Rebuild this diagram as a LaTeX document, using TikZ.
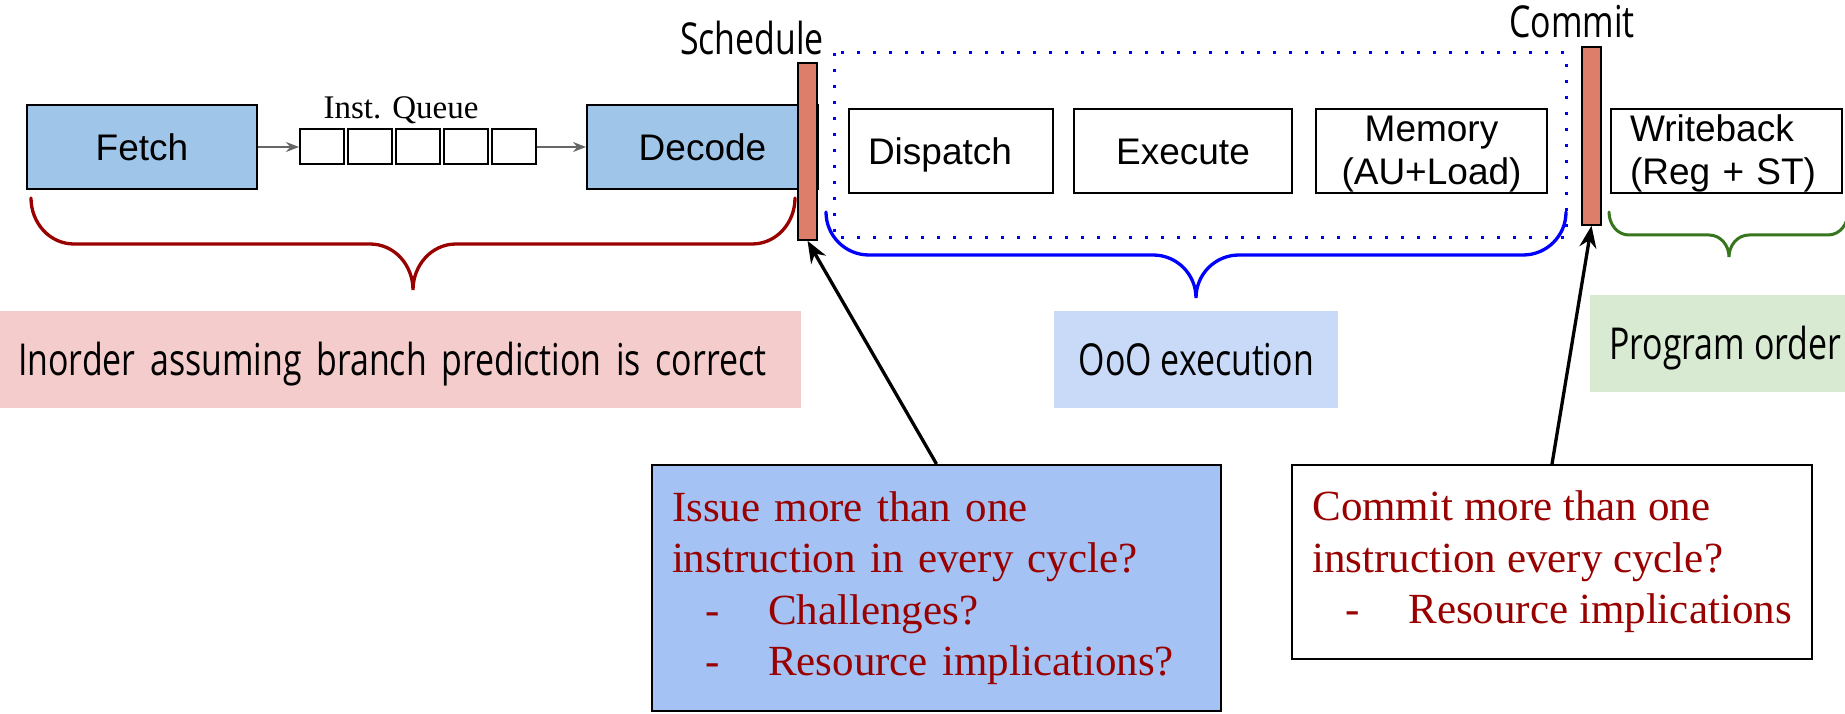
\documentclass[tikz,border=0pt]{standalone}
\usepackage{fontspec}
\setmainfont{Liberation Sans}
\newfontfamily\slidefont[FakeStretch=0.77]{Open Sans}
\newfontfamily\notefont{Liberation Serif}
\usepackage{tikz}
\usetikzlibrary{arrows.meta,positioning}

\definecolor{stageblue}{HTML}{9FC5E8}
\definecolor{latchred}{HTML}{DD7E6B}
\definecolor{darkred}{HTML}{990000}
\definecolor{notepink}{HTML}{F4CCCC}
\definecolor{noteblue}{HTML}{C9DAF8}
\definecolor{notegreen}{HTML}{D9EAD3}
\definecolor{askblue}{HTML}{A4C2F4}
\definecolor{bracegreen}{HTML}{38761D}

\newcommand{\qitem}[1]{\makebox[96pt][l]{\hspace*{33pt}-}#1}
% #1 style, #2 left x, #3 right x, #4 top y, #5 bar y, #6 tip x, #7 tip y, #8 radius
\newcommand{\curlybrace}[8]{%
  \draw[#1] (#2,#4) to[out=-90,in=180] (#2+#8,#5) -- (#6-#8,#5)
    to[out=0,in=90] (#6,#7) to[out=90,in=180] (#6+#8,#5) -- (#3-#8,#5)
    to[out=0,in=-90] (#3,#4);}

\begin{document}
\begin{tikzpicture}[x=1pt,y=1pt,
    stage/.style={draw,line width=2pt,minimum height=84pt,inner sep=0pt,
        text height=32pt,text depth=5pt,font=\fontsize{37}{43}\selectfont},
    twoline/.style={text height=27pt,text depth=45pt},
    leftstage/.style={stage,align=left,text width=#1,inner xsep=19pt},
    cell/.style={draw,line width=2pt,minimum width=43.5pt,minimum height=35pt,inner sep=0pt},
    latch/.style={draw,line width=1.5pt,fill=latchred,minimum width=19pt,inner sep=0pt},
    tag/.style={inner sep=0pt,anchor=base,font=\slidefont\fontsize{44}{52}\selectfont},
    note/.style={inner sep=0pt,minimum height=97pt,anchor=west,text height=36pt,text depth=5pt,
        font=\slidefont\fontsize{44}{52}\selectfont},
    ask/.style={draw,line width=2pt,align=left,text=darkred,inner xsep=20pt,inner ysep=0pt,
        font=\notefont\fontsize{43}{51.5}\selectfont},
    qarrow/.style={draw=black!60,line width=1.5pt,-{Stealth[length=13pt,width=10pt]}},
    pointer/.style={line width=3.3pt,-{Stealth[length=22pt,width=17pt]}},
    ooo/.style={blue,line width=3pt,dash pattern=on 3pt off 13pt}
]
    \useasboundingbox (0,0) rectangle (1845,-714);

    \node[stage,fill=stageblue,minimum width=230pt] (fetch) at (142,-147) {Fetch};
    \foreach \i in {1,...,5}
        \node[cell] (q\i) at (273.75+48*\i,-147) {};
    \node[inner sep=0pt,anchor=base,font=\notefont\fontsize{33}{38}\selectfont] (qlabel)
        at (401,-119) {Inst. Queue};
    \node[stage,fill=stageblue,minimum width=231pt] (decode) at (702.5,-147) {Decode};
    \draw[qarrow] (fetch) -- (q1);
    \draw[qarrow] (q5) -- (decode);

    \draw[ooo] (834,-53) rectangle (1566,-238);
    \node[leftstage=166pt] (dispatch) at (951,-151) {Dispatch};
    \node[stage,minimum width=218pt] (execute) at (1183,-151) {Execute};
    \node[stage,twoline,text width=231pt,align=center] (memory) at (1431.5,-151)
        {Memory\\(AU+Load)};
    \node[leftstage=193pt,twoline] (writeback) at (1726.5,-151) {Writeback\\(Reg + ST)};

    \node[latch,minimum height=177pt] (sched) at (807.5,-151.5) {};
    \node[tag] (schedtag) at (752,-55) {Schedule};
    \node[latch,minimum height=178pt] (cbar) at (1591.5,-136) {};
    \node[tag] (ctag) at (1572,-38) {Commit};

    \curlybrace{darkred,line width=3.3pt,line cap=round}{31}{795}{-198}{-244}{413}{-290}{43}
    \curlybrace{blue,line width=3.3pt,line cap=round}{826}{1566}{-212}{-255}{1196}{-298}{43}
    \curlybrace{bracegreen,line width=3pt,line cap=round}{1609}{1848}{-212}{-235}{1729}{-257}{20}

    \node[note,fill=notepink,text width=765pt,inner xsep=18pt,align=left] (inorder)
        at (0,-359.5) {Inorder assuming branch prediction is correct};
    \node[note,fill=noteblue,minimum width=284pt] (oootag) at (1054,-359.5) {OoO execution};
    \node[note,fill=notegreen,inner xsep=19pt] (progorder) at (1590,-343.5) {Program order};

    \node[ask,fill=askblue,text width=529pt,minimum height=246pt] (issue) at (936.5,-588)
        {Issue more than one\\instruction in every cycle?\\
         \qitem{Challenges?}\\\qitem{Resource implications?}};
    \node[ask,fill=white,minimum width=520pt,minimum height=194pt] (retire) at (1552,-562)
        {Commit more than one\\instruction every cycle?\\
         \qitem{Resource implications}};

    \draw[pointer] (issue.north) -- (sched.south);
    \draw[pointer] (retire.north) -- (cbar.south);
\end{tikzpicture}
\end{document}
